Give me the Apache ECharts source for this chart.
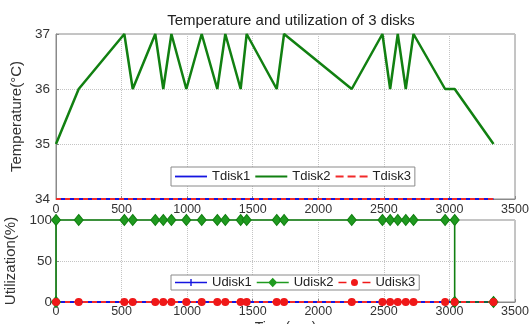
<!DOCTYPE html>
<html><head><meta charset="utf-8">
<script src="https://cdn.jsdelivr.net/npm/echarts@6/dist/echarts.min.js"></script>
<style>html,body{margin:0;padding:0;background:#fff}#c{width:529px;height:324px}</style>
</head><body><div id="c"></div>
<script>
var times = [0,173,521,585,757,818,880,994,1111,1230,1291,1408,1454,1683,1739,2255,2489,2548,2606,2667,2726,2967,3040,3336];
var tdisk1 = [34,34,34,34,34,34,34,34,34,34,34,34,34,34,34,34,34,34,34,34,34,34,34,34];
var tdisk2 = [35,36,37,36,37,36,37,36,37,36,37,36,37,36,37,36,37,36,37,36,37,36,36,35];
var tdisk3 = [34,34,34,34,34,34,34,34,34,34,34,34,34,34,34,34,34,34,34,34,34,34,34,34];
var udisk1 = [0,0,0,0,0,0,0,0,0,0,0,0,0,0,0,0,0,0,0,0,0,0,0,0];
var u2Times = [0,0,173,521,585,757,818,880,994,1111,1230,1291,1408,1454,1683,1739,2255,2489,2548,2606,2667,2726,2967,3040,3040,3336];
var udisk2 = [0,100,100,100,100,100,100,100,100,100,100,100,100,100,100,100,100,100,100,100,100,100,100,100,0,0];
var udisk3 = [0,0,0,0,0,0,0,0,0,0,0,0,0,0,0,0,0,0,0,0,0,0,0,0];
var xTicks = [0,500,1000,1500,2000,2500,3000,3500];
var tempTicks = [34,35,36,37];
var utilTicks = [0,50,100];

function pairs(xs, ys){ return xs.map(function(x,i){return [x, ys[i]];}); }

var FONT = 'Liberation Sans, Arial, sans-serif';
var BLUE = '#1515e0', GREEN = '#118011', RED = '#f22a2a';
var chart = echarts.init(document.getElementById('c'));

function plain(v){ return String(v); }

function xAxis(gi){
  return {
    type:'value', gridIndex:gi, min:xTicks[0], max:xTicks[xTicks.length-1], interval:500,
    axisLine:{show:true, lineStyle:{color:'#8a8a8a'}},
    axisTick:{show:true, inside:true, length:3, lineStyle:{color:'#8a8a8a'}},
    axisLabel:{color:'#333', fontSize:12.5, fontFamily:FONT, margin: gi===0?4:3, formatter:plain},
    splitLine:{show:true, lineStyle:{color:'#c4c4c4', type:'dotted'}},
    name: gi===1 ? 'Time(sec)' : '', nameLocation:'middle', nameGap:19,
    nameTextStyle:{color:'#333', fontSize:14, fontFamily:FONT, verticalAlign:'top'}
  };
}

var ICON_SOLID = 'path://M0,4.1H32V5.9H0Z';
var ICON_DASH = 'path://M0,4.1H8V5.9H0Z M12,4.1H20V5.9H12Z M24,4.1H32V5.9H24Z';
var ICON_PLUS = 'path://M0,4.3H32V5.7H0Z M15.3,1.5H16.7V8.5H15.3Z';
var ICON_DIAM = 'path://M0,4.3H12.2L16,0.3L19.8,4.3H32V5.7H19.8L16,9.7L12.2,5.7H0Z';
var ICON_DOT = 'path://M0,4.2H8V5.8H0Z M24,4.2H32V5.8H24Z M12.5,5A3.5,3.5,0,1,1,19.5,5A3.5,3.5,0,1,1,12.5,5Z';

var option = {
  animation:false,
  backgroundColor:'#fff',
  title:{text:'Temperature and utilization of 3 disks', left:286, textAlign:'center', top:8,
    textStyle:{fontSize:15, fontWeight:'normal', color:'#222', fontFamily:FONT}},
  grid:[
    {left:56, right:14, top:34, height:165, show:true, borderColor:'#8a8a8a', backgroundColor:'#fff', outerBoundsMode:'none', containLabel:false},
    {left:56, right:14, top:220, height:82, show:true, borderColor:'#8a8a8a', backgroundColor:'#fff', outerBoundsMode:'none', containLabel:false}
  ],
  xAxis:[xAxis(0), xAxis(1)],
  yAxis:[
    {type:'value', gridIndex:0, min:tempTicks[0], max:tempTicks[tempTicks.length-1], interval:1,
     axisLine:{show:true, lineStyle:{color:'#8a8a8a'}},
     axisTick:{show:true, inside:true, length:3},
     axisLabel:{color:'#333', fontSize:13.5, fontFamily:FONT, margin:6, formatter:plain},
     splitLine:{show:true, lineStyle:{color:'#c4c4c4', type:'dotted'}},
     name:'Temperature(\u00B0C)', nameLocation:'middle', nameGap:22,
     nameTextStyle:{color:'#333', fontSize:15, fontFamily:FONT}},
    {type:'value', gridIndex:1, min:utilTicks[0], max:utilTicks[utilTicks.length-1], interval:50,
     axisLine:{show:true, lineStyle:{color:'#8a8a8a'}},
     axisTick:{show:true, inside:true, length:3},
     axisLabel:{color:'#333', fontSize:13.5, fontFamily:FONT, margin:4, formatter:plain},
     splitLine:{show:true, lineStyle:{color:'#c4c4c4', type:'dotted'}},
     name:'Utilization(%)', nameLocation:'middle', nameGap:27,
     nameTextStyle:{color:'#333', fontSize:15, fontFamily:FONT}}
  ],
  legend:[
    {data:[{name:'Tdisk1', icon:ICON_SOLID},{name:'Tdisk2', icon:ICON_SOLID},{name:'Tdisk3', icon:ICON_DASH}],
     left:171, top:167, orient:'horizontal',
     itemWidth:32, itemHeight:10, itemGap:5, padding:[3,4,3,4],
     borderColor:'#8a8a8a', borderWidth:1, backgroundColor:'#fff',
     itemStyle:{borderWidth:0},
     textStyle:{fontSize:13, color:'#222', fontFamily:FONT}},
    {data:[{name:'Udisk1', icon:ICON_PLUS},{name:'Udisk2', icon:ICON_DIAM},{name:'Udisk3', icon:ICON_DOT}],
     left:171, top:275, orient:'horizontal',
     itemWidth:32, itemHeight:10, itemGap:5, padding:[1,4,1,4],
     borderColor:'#8a8a8a', borderWidth:1, backgroundColor:'#fff',
     itemStyle:{borderWidth:0},
     textStyle:{fontSize:13, color:'#222', fontFamily:FONT}}
  ],
  series:[
    {name:'Tdisk1', type:'line', xAxisIndex:0, yAxisIndex:0, data:pairs(times,tdisk1),
     showSymbol:false, symbol:'none', clip:false, lineStyle:{color:BLUE, width:2}, itemStyle:{color:BLUE}},
    {name:'Tdisk2', type:'line', xAxisIndex:0, yAxisIndex:0, data:pairs(times,tdisk2),
     showSymbol:false, symbol:'none', clip:false, lineStyle:{color:GREEN, width:2.5}, itemStyle:{color:GREEN}},
    {name:'Tdisk3', type:'line', xAxisIndex:0, yAxisIndex:0, data:pairs(times,tdisk3),
     showSymbol:false, symbol:'none', clip:false, lineStyle:{color:RED, width:2, type:[5,4]}, itemStyle:{color:RED}},
    {name:'Udisk1', type:'line', xAxisIndex:1, yAxisIndex:1, data:pairs(times,udisk1),
     symbol:'path://M0,4.2H10V5.8H0Z M4.2,0H5.8V10H4.2Z', symbolSize:7, clip:false,
     lineStyle:{color:BLUE, width:2}, itemStyle:{color:BLUE}},
    {name:'Udisk2', type:'line', xAxisIndex:1, yAxisIndex:1, data:pairs(u2Times,udisk2),
     symbol:'diamond', symbolSize:[9,11], clip:false,
     lineStyle:{color:GREEN, width:1.6}, itemStyle:{color:'#1f9a1f', borderColor:GREEN, borderWidth:1}},
    {name:'Udisk3', type:'line', xAxisIndex:1, yAxisIndex:1, data:pairs(times,udisk3),
     symbol:'circle', symbolSize:8, clip:false,
     lineStyle:{color:RED, width:2, type:[5,4]}, itemStyle:{color:'#f01818'}}
  ]
};
chart.setOption(option);
</script>
</body></html>
